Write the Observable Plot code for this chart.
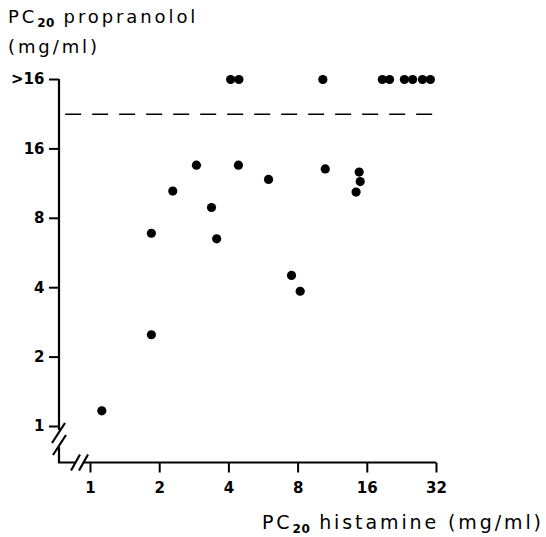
<!DOCTYPE html>
<html><head><meta charset="utf-8">
<script src="https://cdn.jsdelivr.net/npm/d3@7"></script>
<script src="https://cdn.jsdelivr.net/npm/@observablehq/plot@0.6"></script>
<style>
body{margin:0;background:#fff;}
#wrap{position:relative;width:546px;height:537px;font-family:"DejaVu Sans",sans-serif;color:#000;}
#chart{position:absolute;left:0;top:0;}
.t{position:absolute;white-space:nowrap;}
.s{position:relative;top:4px;font-size:12px;font-weight:bold;letter-spacing:0.5px;}
</style></head>
<body><div id="wrap">
<div id="chart"></div>
<div class="t" style="left:8px;top:3px;font-size:18px;line-height:27px;letter-spacing:2.9px">PC<span class="s">20</span> propranolol<br>(mg/ml)</div>
<div class="t" style="left:262px;top:513px;font-size:19px;line-height:19px;letter-spacing:2.9px">PC<span class="s">20</span> histamine (mg/ml)</div>
</div>
<script>
// PC20 histamine (x) and PC20 propranolol (y), mg/ml
const histamine   = [1.12, 1.84, 1.84, 2.28, 2.89, 3.36, 3.54, 4.40, 5.95, 7.49, 8.17, 10.5, 14.75, 14.9, 14.3];
const propranolol = [1.17, 2.50, 6.89, 10.5, 13.6, 8.91, 6.52, 13.6, 11.8, 4.52, 3.86, 13.1, 12.7, 11.55, 10.4];
// subjects with PC20 propranolol > 16 mg/ml (plotted on the ">16" row)
const histamineAbove = [4.07, 4.42, 10.25, 18.6, 20.0, 23.2, 25.2, 27.8, 30.1];
const aboveValue = 32;
const xTicks = [1, 2, 4, 8, 16, 32];
const xTickLabels = ["1", "2", "4", "8", "16", "32"];
const yTicks = [1, 2, 4, 8, 16, 32];
const yTickLabels = ["1", "2", "4", "8", "16", ">16"];
const cutoff = 22.6;
const cutoffFrom = 0.78, cutoffTo = 31.7;

const points = histamine.map((h, i) => ({h, p: propranolol[i]}))
  .concat(histamineAbove.map(h => ({h, p: aboveValue})));

function axisLines(index, scales, values, dims) {
  const x = scales.x, y = scales.y;
  const x0 = dims.marginLeft, y0 = dims.height - dims.marginBottom;
  const yTop = y(yTicks[yTicks.length - 1]), yOne = y(yTicks[0]);
  const xOne = x(xTicks[0]), xEnd = x(xTicks[xTicks.length - 1]);
  const g = d3.create("svg:g").attr("fill", "none").attr("stroke", "black")
    .attr("stroke-width", 2.2);
  const d = [
    `M${x0},${yTop}V${yOne + 4}`,
    `M${x0},${yOne + 21}V${y0}H${xOne - 15}`,
    `M${xOne - 6},${y0}H${xEnd}`,
    `M${x0 - 7},${yOne + 17}L${x0 + 6},${yOne - 3}`,
    `M${x0 - 6},${yOne + 29}L${x0 + 7},${yOne + 9}`,
    `M${xOne - 19},${y0 + 8}L${xOne - 10},${y0 - 8}`,
    `M${xOne - 11},${y0 + 8}L${xOne - 2},${y0 - 8}`
  ];
  g.append("path").attr("d", d.join(""));
  return g.node();
}

const chart = Plot.plot({
  width: 546,
  height: 537,
  marginLeft: 59,
  marginBottom: 74.5,
  marginTop: 79,
  marginRight: 110,
  style: {fontFamily: "DejaVu Sans, sans-serif", background: "white"},
  x: {type: "log", base: 2, domain: [1, 32], range: [90, 436]},
  y: {type: "log", base: 2, domain: [1, 32], range: [426, 79]},
  marks: [
    Plot.axisX({ticks: xTicks, tickFormat: d => xTickLabels[xTicks.indexOf(d)], tickSize: 10,
      tickPadding: 9, fontSize: 15, fontWeight: "bold", strokeWidth: 2, label: null, anchor: "bottom"}),
    Plot.axisY({ticks: yTicks, tickFormat: d => yTickLabels[yTicks.indexOf(d)], tickSize: 10,
      tickPadding: 5, fontSize: 15, fontWeight: "bold", strokeWidth: 2, label: null, anchor: "left"}),
    axisLines,
    Plot.ruleY([cutoff], {x1: cutoffFrom, x2: cutoffTo, stroke: "black", strokeWidth: 1.6,
      strokeDasharray: "16,11"}),
    Plot.dot(points, {x: "h", y: "p", r: 4.6, fill: "black", stroke: "none"})
  ]
});
document.getElementById("chart").appendChild(chart);
</script>
</body></html>
